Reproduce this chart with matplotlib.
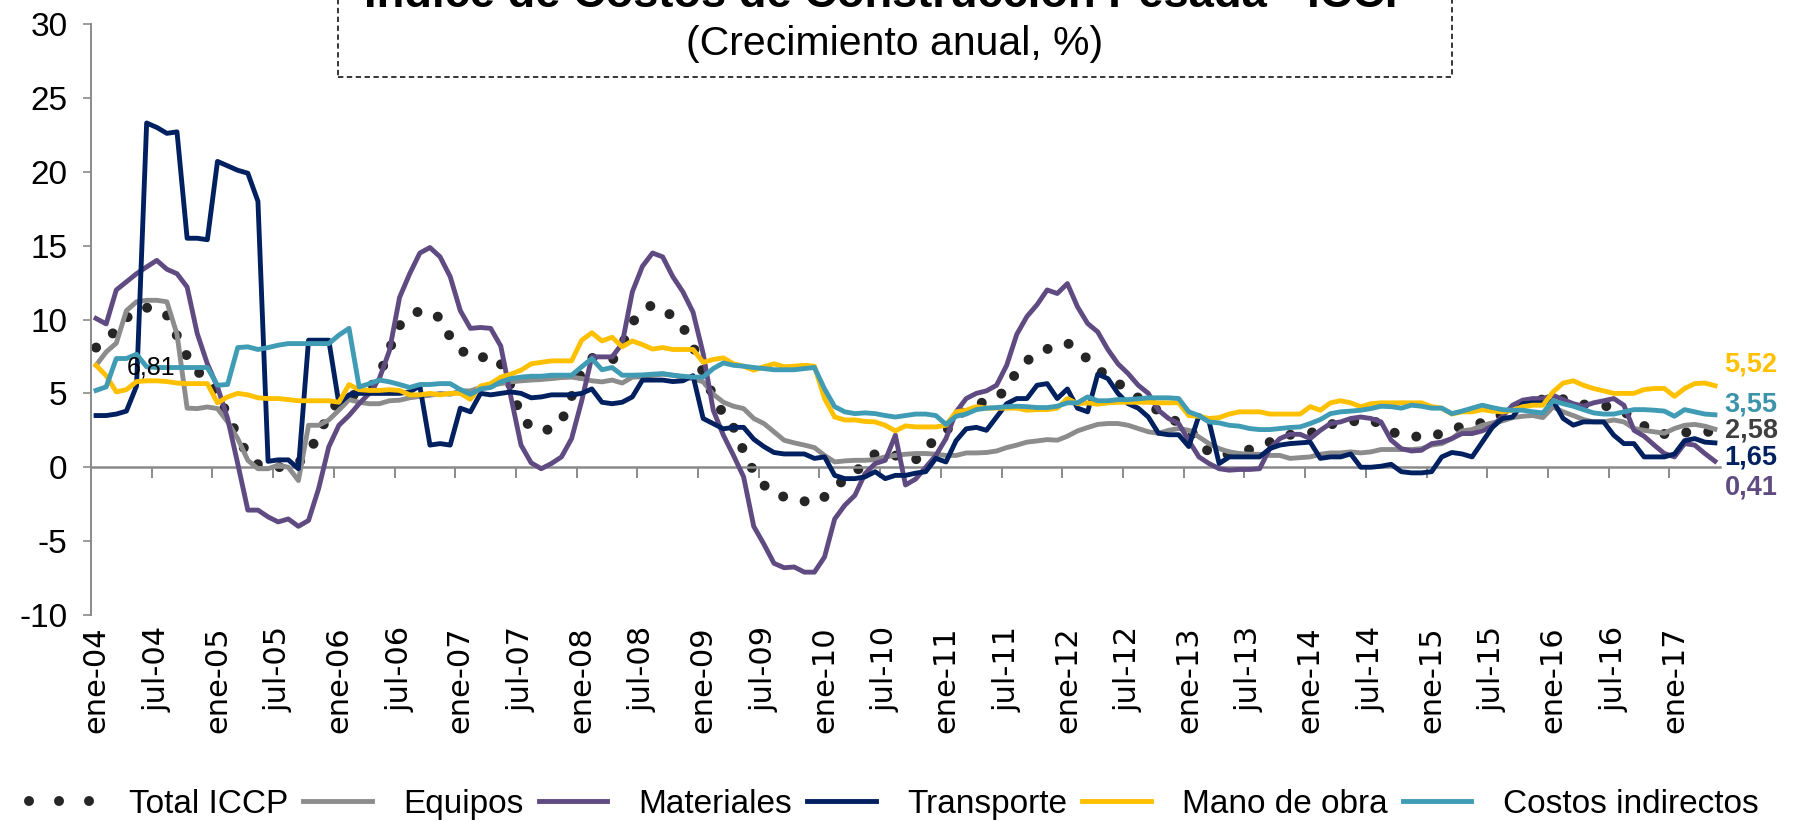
import matplotlib
matplotlib.use("Agg")
import matplotlib.pyplot as plt
from matplotlib import font_manager
from matplotlib.patches import Rectangle
from matplotlib.lines import Line2D

plt.rcParams["axes.unicode_minus"] = False

# ---------------- data ----------------
tick_labels = ["ene-04", "jul-04", "ene-05", "jul-05", "ene-06", "jul-06", "ene-07", "jul-07",
               "ene-08", "jul-08", "ene-09", "jul-09", "ene-10", "jul-10", "ene-11", "jul-11",
               "ene-12", "jul-12", "ene-13", "jul-13", "ene-14", "jul-14", "ene-15", "jul-15",
               "ene-16", "jul-16", "ene-17"]

total_iccp = [
    8.1, 8.6, 9.3, 10.1, 10.6, 10.8, 10.7, 10.3, 8.9, 7.5,
    6.5, 5.9, 5.0, 3.5, 2.1, 0.8, 0.2, 0.0, 0.0, 0.1,
    0.3, 1.0, 2.2, 3.6, 4.5, 4.8, 5.0, 5.3, 6.2, 8.0,
    9.6, 10.2, 10.6, 10.5, 10.1, 8.8, 8.0, 7.4, 7.4, 7.6,
    7.0, 5.5, 3.4, 2.7, 2.45, 2.6, 3.1, 4.8, 6.5, 7.4,
    7.3, 7.2, 8.3, 9.8, 10.6, 11.0, 10.7, 10.2, 9.5, 8.2,
    6.4, 4.8, 3.6, 2.7, 1.1, -0.3, -1.2, -1.8, -2.0, -2.1,
    -2.3, -2.45, -2.0, -1.4, -0.8, -0.4, 0.4, 0.9, 1.0, 0.8,
    0.45, 0.5, 1.3, 1.9, 2.4, 3.4, 3.9, 4.2, 4.5, 4.7,
    5.3, 6.5, 7.2, 7.7, 8.0, 8.2, 8.4, 8.0, 7.3, 6.6,
    6.2, 5.7, 5.2, 4.7, 4.3, 3.8, 3.4, 3.0, 2.6, 1.8,
    1.0, 0.8, 0.9, 1.0, 1.2, 1.4, 1.7, 2.0, 2.2, 2.2,
    2.3, 2.6, 2.9, 3.0, 3.1, 3.15, 3.2, 2.9, 2.4, 2.2,
    2.1, 2.05, 2.1, 2.3, 2.5, 2.8, 2.9, 3.0, 3.2, 3.6,
    3.9, 4.2, 4.4, 4.6, 4.75, 4.6, 4.35, 4.25, 4.2, 4.15,
    4.1, 3.8, 3.2, 2.8, 2.35, 2.25, 2.25, 2.35, 2.4, 2.4, 2.4]

equipos = [
    6.9, 7.8, 8.4, 10.6, 11.2, 11.3, 11.3, 11.2, 9.0, 4.0,
    3.97, 4.08, 3.97, 3.07, 1.94, 0.47, -0.1, -0.1, 0.14, 0.0,
    -0.9, 2.84, 2.84, 3.2, 3.86, 4.58, 4.4, 4.3, 4.3, 4.5,
    4.54, 4.7, 4.8, 4.87, 5.0, 4.94, 5.17, 5.17, 5.4, 5.55,
    5.66, 5.78, 5.85, 5.9, 5.94, 6.0, 6.07, 6.1, 6.0, 5.85,
    5.78, 5.9, 5.7, 6.1, 6.12, 6.23, 6.3, 6.23, 6.1, 6.0,
    5.78, 4.94, 4.4, 4.13, 3.97, 3.3, 2.96, 2.4, 1.83, 1.65,
    1.5, 1.33, 0.8, 0.36, 0.43, 0.47, 0.47, 0.52, 0.7, 0.8,
    0.88, 0.93, 0.93, 0.88, 0.8, 0.8, 0.97, 0.97, 1.0, 1.1,
    1.33, 1.5, 1.7, 1.78, 1.87, 1.83, 2.1, 2.46, 2.69, 2.9,
    2.96, 2.96, 2.84, 2.62, 2.4, 2.3, 2.5, 2.62, 2.5, 2.05,
    1.6, 1.26, 1.04, 0.93, 0.88, 0.88, 0.8, 0.8, 0.6, 0.65,
    0.7, 0.88, 0.97, 0.97, 1.04, 0.97, 1.04, 1.2, 1.2, 1.2,
    1.2, 1.26, 1.5, 1.6, 1.94, 2.46, 2.55, 2.84, 3.0, 3.14,
    3.36, 3.45, 3.5, 3.36, 4.08, 3.75, 3.5, 3.23, 3.07, 3.07,
    3.2, 3.07, 2.62, 2.5, 2.4, 2.3, 2.62, 2.84, 2.9, 2.78, 2.58]

materiales = [
    10.07, 9.7, 12.0, 12.55, 13.1, 13.56, 14.0, 13.4, 13.1, 12.2,
    9.05, 7.0, 5.44, 3.3, 0.25, -2.9, -2.9, -3.36, -3.7, -3.5,
    -4.0, -3.6, -1.44, 1.38, 2.84, 3.5, 4.3, 5.0, 6.0, 7.9,
    11.5, 13.1, 14.5, 14.87, 14.24, 12.9, 10.6, 9.4, 9.46, 9.4,
    8.2, 4.76, 1.5, 0.3, -0.1, 0.25, 0.7, 1.94, 4.5, 7.47,
    7.47, 7.47, 8.37, 11.87, 13.6, 14.5, 14.24, 12.9, 11.87, 10.5,
    7.7, 3.86, 2.17, 0.8, -0.65, -4.0, -5.2, -6.5, -6.8, -6.75,
    -7.1, -7.1, -6.07, -3.5, -2.57, -1.9, -0.43, 0.25, 0.47, 2.17,
    -1.2, -0.8, 0.0, 0.8, 1.94, 3.75, 4.65, 5.0, 5.17, 5.55,
    6.9, 9.0, 10.2, 11.0, 12.0, 11.76, 12.43, 10.86, 9.73, 9.16,
    7.97, 7.0, 6.34, 5.55, 5.0, 3.86, 3.3, 2.96, 1.8, 0.7,
    0.25, -0.1, -0.2, -0.15, -0.15, -0.1, 1.26, 1.94, 2.23, 2.23,
    1.94, 2.5, 2.96, 3.07, 3.3, 3.4, 3.3, 3.07, 1.83, 1.26,
    1.1, 1.15, 1.6, 1.7, 1.94, 2.28, 2.28, 2.46, 2.78, 3.45,
    4.2, 4.54, 4.65, 4.65, 4.87, 4.58, 4.3, 4.13, 4.36, 4.5,
    4.65, 4.2, 2.5, 2.1, 1.5, 0.93, 0.7, 1.6, 1.5, 0.93, 0.41]

transporte = [
    3.5, 3.5, 3.6, 3.8, 5.5, 23.3, 23.0, 22.6, 22.7, 15.5,
    15.5, 15.4, 20.7, 20.4, 20.1, 19.9, 18.0, 0.4, 0.5, 0.5,
    -0.1, 8.6, 8.6, 8.6, 4.3, 4.9, 5.0, 5.0, 5.0, 5.0,
    5.0, 5.1, 5.5, 1.5, 1.6, 1.5, 4.0, 3.75, 5.0, 4.9,
    5.0, 5.1, 5.0, 4.7, 4.76, 4.9, 4.9, 4.9, 5.0, 5.3,
    4.4, 4.3, 4.4, 4.76, 5.9, 5.9, 5.9, 5.8, 5.85, 6.2,
    3.3, 2.95, 2.6, 2.7, 2.7, 1.9, 1.4, 1.0, 0.9, 0.9,
    0.9, 0.6, 0.7, -0.55, -0.77, -0.77, -0.65, -0.3, -0.77, -0.55,
    -0.55, -0.4, -0.3, 0.6, 0.36, 1.8, 2.6, 2.7, 2.5, 3.4,
    4.3, 4.65, 4.65, 5.55, 5.66, 4.65, 5.3, 4.0, 3.75, 6.3,
    6.0, 5.0, 4.3, 4.0, 3.4, 2.3, 2.2, 2.2, 1.4, 3.5,
    3.1, 0.25, 0.7, 0.7, 0.7, 0.7, 1.26, 1.5, 1.6, 1.65,
    1.7, 0.6, 0.7, 0.7, 0.9, 0.0, 0.0, 0.07, 0.2, -0.3,
    -0.38, -0.38, -0.3, 0.7, 1.0, 0.9, 0.7, 1.7, 2.7, 3.3,
    3.4, 4.3, 4.36, 4.36, 4.5, 3.3, 2.85, 3.07, 3.07, 3.07,
    2.17, 1.6, 1.6, 0.7, 0.7, 0.7, 0.9, 1.8, 1.94, 1.7, 1.65]

mano_de_obra = [
    6.9, 6.2, 5.1, 5.25, 5.8, 5.85, 5.85, 5.8, 5.7, 5.66,
    5.66, 5.66, 4.36, 4.76, 5.0, 4.9, 4.7, 4.65, 4.65, 4.58,
    4.5, 4.5, 4.5, 4.5, 4.4, 5.6, 5.25, 5.2, 5.2, 5.25,
    5.2, 4.9, 4.9, 5.0, 4.9, 5.0, 5.0, 4.6, 5.5, 5.66,
    6.1, 6.3, 6.57, 7.0, 7.1, 7.2, 7.2, 7.2, 8.6, 9.1,
    8.55, 8.8, 8.15, 8.55, 8.3, 8.0, 8.1, 7.97, 7.97, 7.97,
    7.1, 7.3, 7.4, 7.0, 6.84, 6.57, 6.8, 7.0, 6.8, 6.84,
    6.9, 6.84, 4.65, 3.4, 3.2, 3.2, 3.1, 3.07, 2.84, 2.46,
    2.8, 2.73, 2.73, 2.73, 2.84, 3.75, 3.86, 4.1, 4.0, 4.0,
    4.0, 4.0, 3.86, 3.9, 3.9, 4.0, 4.65, 4.3, 4.36, 4.27,
    4.36, 4.4, 4.4, 4.4, 4.4, 4.36, 4.36, 4.36, 3.5, 3.45,
    3.3, 3.36, 3.6, 3.75, 3.75, 3.75, 3.6, 3.6, 3.6, 3.6,
    4.1, 3.86, 4.36, 4.5, 4.36, 4.1, 4.3, 4.36, 4.36, 4.36,
    4.36, 4.36, 4.1, 4.0, 3.6, 3.75, 3.75, 3.9, 3.8, 3.75,
    3.86, 4.1, 4.2, 4.2, 5.1, 5.7, 5.85, 5.55, 5.33, 5.17,
    5.0, 5.0, 5.0, 5.26, 5.33, 5.33, 4.8, 5.33, 5.66, 5.7, 5.52]

costos_indirectos = [
    5.2, 5.44, 7.36, 7.36, 7.65, 6.8, 6.75, 6.75, 6.75, 6.75,
    6.75, 6.75, 5.55, 5.6, 8.1, 8.15, 7.97, 8.1, 8.26, 8.37,
    8.37, 8.37, 8.37, 8.37, 8.94, 9.4, 5.44, 5.65, 5.9, 5.78,
    5.6, 5.4, 5.6, 5.6, 5.66, 5.66, 5.26, 4.94, 5.3, 5.4,
    5.78, 6.0, 6.1, 6.16, 6.16, 6.23, 6.23, 6.23, 6.8, 7.36,
    6.6, 6.75, 6.23, 6.23, 6.25, 6.3, 6.34, 6.23, 6.16, 6.1,
    6.1, 6.68, 7.06, 6.9, 6.84, 6.75, 6.68, 6.6, 6.6, 6.6,
    6.68, 6.75, 5.3, 4.1, 3.75, 3.63, 3.68, 3.63, 3.5, 3.4,
    3.5, 3.6, 3.6, 3.5, 2.9, 3.45, 3.6, 3.9, 4.0, 4.04,
    4.1, 4.13, 4.1, 4.04, 4.04, 4.13, 4.36, 4.36, 4.76, 4.5,
    4.5, 4.58, 4.58, 4.63, 4.7, 4.7, 4.7, 4.65, 3.75, 3.5,
    3.07, 3.0, 2.84, 2.78, 2.62, 2.55, 2.55, 2.62, 2.69, 2.73,
    2.96, 3.23, 3.63, 3.75, 3.8, 3.86, 3.97, 4.13, 4.1, 4.0,
    4.2, 4.13, 4.0, 4.0, 3.63, 3.8, 4.0, 4.2, 4.04, 3.9,
    3.86, 3.86, 3.75, 3.68, 4.5, 4.3, 4.13, 3.9, 3.68, 3.6,
    3.6, 3.75, 3.9, 3.9, 3.86, 3.8, 3.45, 3.9, 3.75, 3.6, 3.55]

series_names = ["Total ICCP", "Equipos", "Materiales", "Transporte", "Mano de obra", "Costos indirectos"]
stray_label = "6,81"

# ---------------- styling ----------------
names = {f.name for f in font_manager.fontManager.ttflist}
narrow = "Liberation Sans Narrow" if "Liberation Sans Narrow" in names else "Liberation Sans"
FONT = [narrow, "DejaVu Sans"]

C_TOTAL = "#262626"
C_EQ = "#8C8C8C"
C_MAT = "#5F4B82"
C_TRA = "#002060"
C_MO = "#FFC000"
C_CI = "#3F9CB4"
C_AX = "#8A8A8A"

W, H = 1793, 822
fig = plt.figure(figsize=(W / 100, H / 100), dpi=100)
left, right, top, bottom = 91, 1720, 24, 615
ax = fig.add_axes([left / W, 1 - bottom / H, (right - left) / W, (bottom - top) / H])

n = len(total_iccp)
x = list(range(n))
LW = 3.5
DOTS = (0, (0.001, 2.2))

ax.plot(x, total_iccp, color=C_TOTAL, lw=7.2, linestyle=DOTS,
        dash_capstyle="round", label=series_names[0], zorder=2)
ax.plot(x, equipos, color=C_EQ, lw=LW, label=series_names[1], zorder=3)
ax.plot(x, materiales, color=C_MAT, lw=LW, label=series_names[2], zorder=4)
ax.plot(x, transporte, color=C_TRA, lw=LW, label=series_names[3], zorder=5)
ax.plot(x, mano_de_obra, color=C_MO, lw=LW, label=series_names[4], zorder=6)
ax.plot(x, costos_indirectos, color=C_CI, lw=LW, label=series_names[5], zorder=7)

ax.set_xlim(-0.5, n - 0.5)
ax.set_ylim(-10, 30)

for s in ["top", "right"]:
    ax.spines[s].set_visible(False)
ax.spines["left"].set_color(C_AX)
ax.spines["left"].set_linewidth(1.4)
ax.spines["bottom"].set_position(("data", 0))
ax.spines["bottom"].set_color(C_AX)
ax.spines["bottom"].set_linewidth(1.8)

ax.set_yticks(range(-10, 31, 5))
ax.tick_params(axis="y", direction="out", length=6, width=1.2, color=C_AX, pad=11,
               labelsize=24, labelcolor="black")
for lab in ax.get_yticklabels():
    lab.set_family(FONT)

# tick marks between groups of 6 months on the zero line
ax.set_xticks([k - 0.5 for k in range(6, n, 6)])
ax.set_xticklabels([])
ax.tick_params(axis="x", direction="out", length=8, width=1.4, color=C_AX)

# category labels at the bottom of the plot area
sec = ax.secondary_xaxis(0)
sec.set_xticks(list(range(0, n, 6))[:len(tick_labels)])
sec.set_xticklabels(tick_labels, rotation=90, fontsize=22, family="DejaVu Sans")
sec.tick_params(length=0, pad=8)
sec.spines["bottom"].set_visible(False)

# stray data label
ax.text(5.4, 6.74, stray_label, ha="center", va="center", fontsize=18,
        family=["Liberation Sans", "DejaVu Sans"], color="black", zorder=8)

# end-of-series value labels
end_series = [(mano_de_obra, C_MO, 6.97), (costos_indirectos, "#3D93AA", 4.27),
              (equipos, "#404040", 2.5), (transporte, C_TRA, 0.64), (materiales, C_MAT, -1.35)]
for vals, col, ypos in end_series:
    ax.text(n - 0.5 + 0.45, ypos, f"{vals[-1]:.2f}".replace(".", ","), ha="left", va="center",
            fontsize=19.5, fontweight="bold", family=["Liberation Sans", "DejaVu Sans"],
            color=col, clip_on=False)

# title box (its top lies outside the picture, as in the original)
fig.patches.append(Rectangle((338 / W, 1 - 77 / H), (1452 - 338) / W, 0.3, transform=fig.transFigure,
                             fill=False, edgecolor="black", lw=1.1, linestyle=(0, (3.5, 2.3)),
                             clip_on=False))
title = fig.text(890 / W, 1 - 7 / H, "Índice de Costos de Construcción Pesada - ICCP",
                 ha="center", va="baseline", fontsize=34, fontweight="bold", family=FONT)
subtitle = fig.text(895 / W, 1 - 44 / H, "(Crecimiento anual, %)", ha="center", va="center",
                    fontsize=32, family=FONT)
fig.canvas.draw()
r = fig.canvas.get_renderer()
for t, target in [(title, 1052), (subtitle, 417)]:
    wpx = t.get_window_extent(r).width
    t.set_fontsize(t.get_fontsize() * target / wpx)

# legend
LEG_DOTS = (0, (0.001, 3.0))
handles = [Line2D([], [], color=C_TOTAL, lw=7.2, linestyle=LEG_DOTS, dash_capstyle="round"),
           Line2D([], [], color=C_EQ, lw=LW), Line2D([], [], color=C_MAT, lw=LW),
           Line2D([], [], color=C_TRA, lw=LW), Line2D([], [], color=C_MO, lw=LW),
           Line2D([], [], color=C_CI, lw=LW)]
fig.legend(handles, series_names, loc="center", bbox_to_anchor=(0.4985, 1 - 804 / H), ncol=6,
           frameon=False, handlelength=2.05, handletextpad=0.95, columnspacing=0.45,
           prop={"family": FONT, "size": 24}, borderpad=0, borderaxespad=0)

fig.savefig("out.png", dpi=100)
